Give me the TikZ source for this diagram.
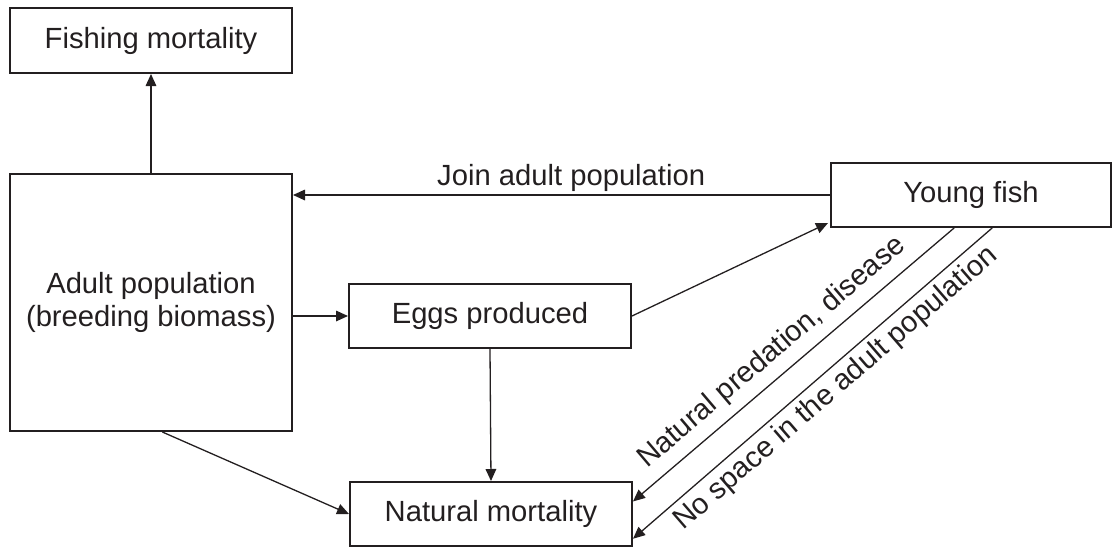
\documentclass[tikz,border=0pt]{standalone}
\usepackage{fontspec}
\setmainfont{Liberation Sans}
\usetikzlibrary{arrows.meta,calc}
\definecolor{ink}{HTML}{231F20}
\begin{document}
\begin{tikzpicture}[x=0.5pt,y=-0.5pt,
  font=\fontsize{14.6}{16.5}\selectfont,
  box/.style={draw=ink,line width=1pt,rectangle,inner sep=0pt,align=center,text=ink},
  conn/.style={draw=ink,line width=0.65pt,-{Triangle[length=6pt,width=5.3pt]}},
  conr/.style={draw=ink,line width=0.65pt,{Triangle[length=6pt,width=5.3pt]}-},
  lbl/.style={inner sep=0pt,text=ink}]
\useasboundingbox (0,0) rectangle (1115,547);
\node[box,minimum width=141pt,minimum height=32.5pt] (fish) at (151,40.5) {Fishing mortality};
\node[box,minimum width=141pt,minimum height=128.5pt] (adult) at (151,302.5) {Adult population\\(breeding biomass)};
\node[box,minimum width=141pt,minimum height=32pt] (eggs) at (490,316) {Eggs produced};
\node[box,minimum width=140pt,minimum height=32pt] (young) at (971,195) {Young fish};
\node[box,minimum width=141pt,minimum height=32pt] (nat) at (491,514) {Natural mortality};

\draw[conn] (adult.north) -- (fish.south);
\draw[conn] (young.west) -- (adult.east |- young.west)
  node[lbl,pos=0.482,above=1.5pt] {Join adult population};
\draw[conn] (adult.east |- eggs.west) -- (eggs.west);
\draw[conn] (eggs.east) -- ($(young.south west)+(-2,-5)$);
\draw[conn] (eggs.south) -- (nat.north);
\draw[conn] ($(adult.south west)!0.54!(adult.south east)$) -- (nat.west);
\draw[conr] ($(nat.north east)!0.31!(nat.south east)$) -- ($(young.south west)!0.44!(young.south east)$)
  node[lbl,pos=0.48,sloped,above=4.5pt] {Natural predation, disease};
\draw[conr] ($(nat.north east)!0.875!(nat.south east)$) -- ($(young.south west)!0.575!(young.south east)$)
  node[lbl,pos=0.53,sloped,below=2.5pt] {No space in the adult population};
\end{tikzpicture}
\end{document}
